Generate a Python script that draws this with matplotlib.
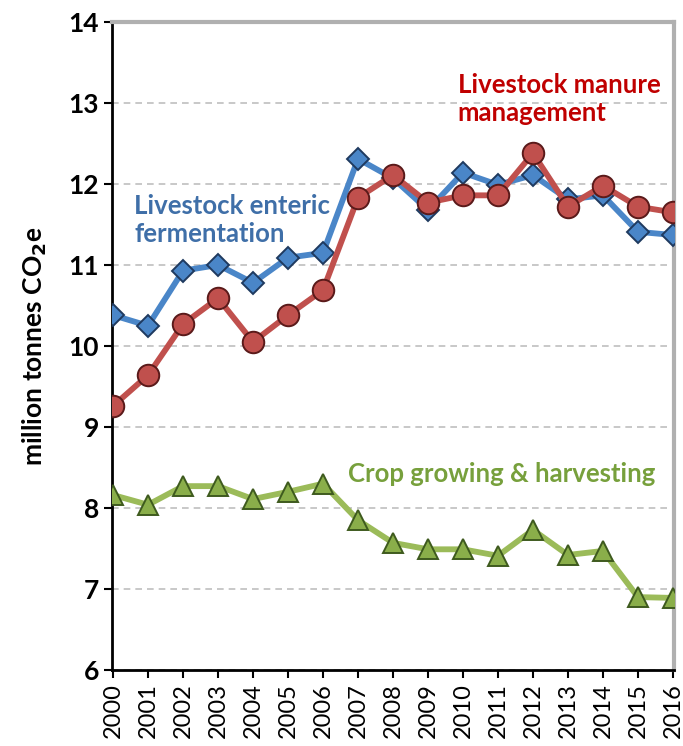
import matplotlib
matplotlib.use("Agg")
import matplotlib.pyplot as plt

years = list(range(2000, 2017))
enteric = [10.38, 10.25, 10.93, 11.00, 10.78, 11.09, 11.15, 12.31, 12.07, 11.68,
           12.14, 11.99, 12.11, 11.81, 11.86, 11.41, 11.37]
manure = [9.26, 9.64, 10.27, 10.59, 10.05, 10.38, 10.69, 11.83, 12.11, 11.77,
          11.86, 11.86, 12.38, 11.72, 11.98, 11.72, 11.65]
crop = [8.16, 8.04, 8.27, 8.27, 8.11, 8.20, 8.30, 7.85, 7.57, 7.49,
        7.49, 7.41, 7.73, 7.42, 7.47, 6.90, 6.89]
y_ticks = [6, 7, 8, 9, 10, 11, 12, 13, 14]

plt.rcParams["font.family"] = ["Lato", "DejaVu Sans"]

fig = plt.figure(figsize=(6.83, 7.46), dpi=100)
ax = fig.add_axes([112 / 683, 76 / 746, 562 / 683, 648 / 746])

ax.plot(years, enteric, color="#4A86C8", lw=4.2, marker="D", ms=11,
        mfc="#4A86C8", mec="#1F3A5F", mew=1.4, zorder=3)
ax.plot(years, manure, color="#C0504D", lw=4.2, marker="o", ms=15.5,
        mfc="#C0504D", mec="#5A1A1A", mew=1.4, zorder=4)
ax.plot(years, crop, color="#9BBB59", lw=4.2, marker="^", ms=15,
        mfc="#8AAE4A", mec="#3E5A1E", mew=1.4, zorder=3)

ax.set_xlim(1999.97, 2016.03)
ax.set_ylim(6, 14)
ax.set_yticks(y_ticks)
ax.set_xticks(years)
ax.set_xticklabels([str(y) for y in years], rotation=90, fontsize=17)
ax.set_yticklabels([str(v) for v in y_ticks], fontsize=19, fontweight="bold")
ax.tick_params(direction="out", length=6, width=1.5, colors="black")
ax.yaxis.grid(True, linestyle=(0, (4, 3)), color="#BFBFBF", lw=1.2)
ax.set_axisbelow(True)

for s in ["left", "bottom"]:
    ax.spines[s].set_linewidth(2)
    ax.spines[s].set_color("black")
for s in ["top", "right"]:
    ax.spines[s].set_linewidth(3)
    ax.spines[s].set_color("#B0B0B0")

ax.set_ylabel("million tonnes CO$_\\mathbf{2}$e", fontsize=19, fontweight="bold",
              labelpad=14)

ax.text(2000.6, 11.55, "Livestock enteric\nfermentation", color="#3F6FA8",
        fontsize=18.5, fontweight="bold", va="center", ha="left", linespacing=1.2)
ax.text(2009.85, 13.05, "Livestock manure\nmanagement", color="#C00000",
        fontsize=18.5, fontweight="bold", va="center", ha="left", linespacing=1.2)
ax.text(2006.7, 8.42, "Crop growing & harvesting", color="#77A03C",
        fontsize=18.5, fontweight="bold", va="center", ha="left")

fig.savefig("out.png", dpi=100, facecolor="white")
